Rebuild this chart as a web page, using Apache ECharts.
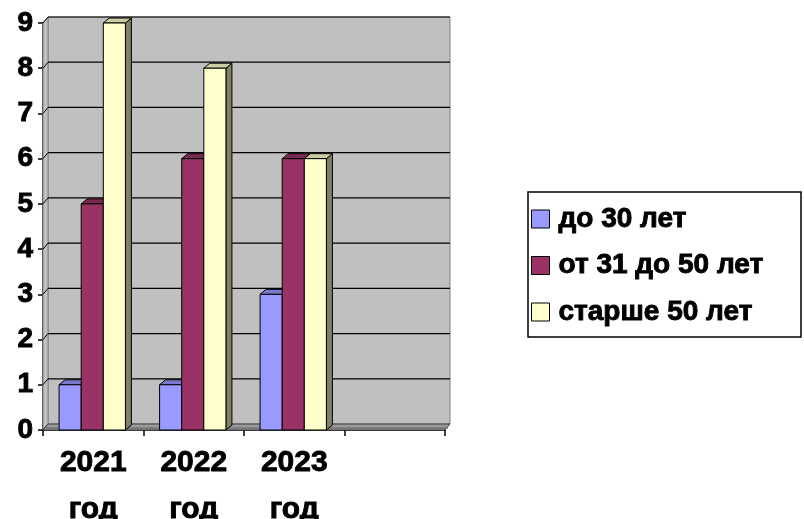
<!DOCTYPE html>
<html>
<head>
<meta charset="utf-8">
<script src="https://cdn.jsdelivr.net/npm/echarts@6/dist/echarts.min.js"></script>
<style>html,body{margin:0;padding:0;background:#fff;}#c{width:804px;height:519px;}</style>
</head>
<body>
<div id="c"></div>
<script>
const categories = ['2021\nгод', '2022\nгод', '2023\nгод', ''];
const seriesNames = ['до 30 лет', 'от 31 до 50 лет', 'старше 50 лет'];
const under30 = [1, 1, 3, null];
const from31to50 = [5, 6, 6, null];
const over50 = [9, 8, 6, null];
const yMin = 0, yMax = 9, yInterval = 1;

const FONT = '"Liberation Sans", Arial, sans-serif';
const faces = [
  { front: '#9999FF', top: '#7A7ACC', side: '#5C5C99' },
  { front: '#993366', top: '#7A2952', side: '#5C1F3D' },
  { front: '#FFFFCC', top: '#CCCCA3', side: '#808066' }
];
const BDX = 6, BDY = -5;   // bar depth
const WDX = 5, WDY = -6;   // wall depth

function barRender(idx) {
  return function (params, api) {
    const cat = api.value(0), v = api.value(1);
    const band = api.size([1, 0])[0];
    const bw = band * 0.22;
    const base = api.coord([cat, 0]);
    const p = api.coord([cat, v]);
    const center = base[0] - 1;
    const x0 = center + (idx - 1.5) * bw, x1 = x0 + bw;
    const yt = p[1], yb = base[1];
    const f = faces[idx];
    const st = { stroke: '#000', lineWidth: 1 };
    return {
      type: 'group',
      children: [
        { type: 'polygon', shape: { points: [[x1, yt], [x1 + BDX, yt + BDY], [x1 + BDX, yb + BDY], [x1, yb]] }, style: Object.assign({ fill: f.side }, st) },
        { type: 'polygon', shape: { points: [[x0, yt], [x0 + BDX, yt + BDY], [x1 + BDX, yt + BDY], [x1, yt]] }, style: Object.assign({ fill: f.top }, st) },
        { type: 'rect', shape: { x: x0, y: yt, width: bw, height: yb - yt }, style: Object.assign({ fill: f.front }, st) }
      ]
    };
  };
}

function wallRender(params, api) {
  const cs = params.coordSys;
  const xl = cs.x, xr = cs.x + cs.width, yt = cs.y, yb = cs.y + cs.height;
  const ch = [];
  ch.push({ type: 'rect', shape: { x: xl + WDX, y: yt + WDY, width: cs.width, height: cs.height }, style: { fill: '#C0C0C0', stroke: '#808080', lineWidth: 1 } });
  ch.push({ type: 'polygon', shape: { points: [[xl, yt], [xl + WDX, yt + WDY], [xl + WDX, yb + WDY], [xl, yb]] }, style: { fill: '#C0C0C0', stroke: '#808080', lineWidth: 1 } });
  for (let v = yMin; v <= yMax; v += yInterval) {
    const y = api.coord([0, v])[1];
    if (v > yMin) {
      ch.push({ type: 'line', shape: { x1: xl + WDX, y1: y + WDY, x2: xr + WDX, y2: y + WDY }, style: { stroke: '#000', lineWidth: 1.2 } });
    }
    ch.push({ type: 'line', shape: { x1: xl, y1: y, x2: xl + WDX, y2: y + WDY }, style: { stroke: '#000', lineWidth: 1 } });
  }
  ch.push({ type: 'polygon', shape: { points: [[xl, yb], [xl + WDX, yb + WDY], [xr + WDX, yb + WDY], [xr, yb]] }, style: { fill: '#9A9A9A', stroke: '#404040', lineWidth: 1 } });
  ch.push({ type: 'line', shape: { x1: xl + 3, y1: yb - 2, x2: xr + 3, y2: yb - 2 }, style: { stroke: '#606060', lineWidth: 1 } });
  return { type: 'group', children: ch };
}

const chart = echarts.init(document.getElementById('c'), null, { renderer: 'canvas' });
const dataFor = arr => arr.map((v, i) => [i, v]).filter(d => d[1] !== null);
const heavy = { textBorderColor: '#000', textBorderWidth: 0.9 };

chart.setOption({
  animation: false,
  backgroundColor: '#fff',
  grid: { left: 43, right: 359, top: 23, bottom: 89, containLabel: false, outerBoundsMode: 'none' },
  xAxis: {
    type: 'category',
    data: categories,
    axisLine: { show: true, lineStyle: { color: '#000', width: 1.5 } },
    axisTick: { show: true, length: 6, lineStyle: { color: '#000', width: 1.5 } },
    axisLabel: Object.assign({ color: '#000', fontFamily: FONT, fontWeight: 'bold', fontSize: 30, lineHeight: 47, margin: 9, interval: 0 }, heavy),
    splitLine: { show: false }
  },
  yAxis: {
    type: 'value',
    min: yMin, max: yMax, interval: yInterval,
    axisLine: { show: true, lineStyle: { color: '#000', width: 1.5 } },
    axisTick: { show: true, length: 5, lineStyle: { color: '#000', width: 1.5 } },
    axisLabel: Object.assign({ color: '#000', fontFamily: FONT, fontWeight: 'bold', fontSize: 28, margin: 10 }, heavy),
    splitLine: { show: false }
  },
  legend: {
    data: seriesNames,
    orient: 'vertical',
    left: 531, top: 204,
    padding: 0,
    itemWidth: 18, itemHeight: 18, itemGap: 16.5,
    icon: 'rect',
    itemStyle: { borderColor: '#000', borderWidth: 1 },
    textStyle: Object.assign({ color: '#000', fontFamily: FONT, fontWeight: 'bold', fontSize: 28, lineHeight: 30, padding: [0, 0, 0, 4] }, heavy)
  },
  graphic: [
    { type: 'rect', shape: { x: 528, y: 192, width: 273, height: 145 }, style: { fill: 'none', stroke: '#000', lineWidth: 1.5 }, z: 10 }
  ],
  series: [
    { type: 'custom', name: 'wall', renderItem: wallRender, data: [[0, 0]], z: 1, silent: true },
    { type: 'custom', name: seriesNames[0], renderItem: barRender(0), data: dataFor(under30), encode: { x: 0, y: 1 }, itemStyle: { color: faces[0].front }, z: 2 },
    { type: 'custom', name: seriesNames[1], renderItem: barRender(1), data: dataFor(from31to50), encode: { x: 0, y: 1 }, itemStyle: { color: faces[1].front }, z: 2 },
    { type: 'custom', name: seriesNames[2], renderItem: barRender(2), data: dataFor(over50), encode: { x: 0, y: 1 }, itemStyle: { color: faces[2].front }, z: 2 }
  ]
});
</script>
</body>
</html>
